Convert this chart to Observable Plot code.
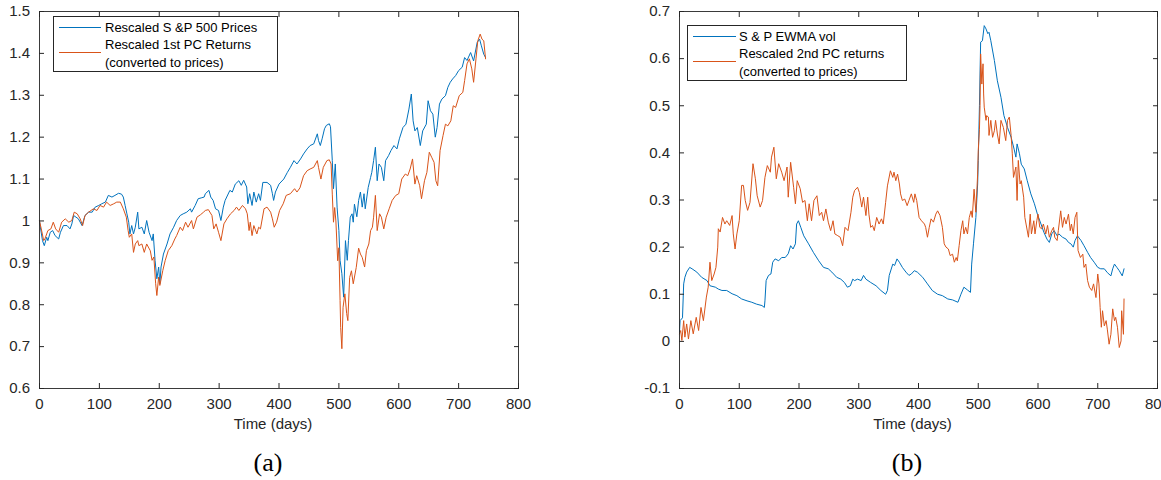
<!DOCTYPE html>
<html><head><meta charset="utf-8">
<script src="https://cdn.jsdelivr.net/npm/d3@7"></script>
<script src="https://cdn.jsdelivr.net/npm/@observablehq/plot@0.6"></script>
<style>
body{margin:0;background:#fff;width:1161px;height:480px;position:relative;overflow:hidden;font-family:"Liberation Sans",Arial,sans-serif;}
.panel{position:absolute;top:0;}
.legend{position:absolute;border:1px solid #262626;background:#fff;font-size:13px;color:#000;box-sizing:border-box;}
.legend .ln{position:absolute;height:0;border-top:1.2px solid;}
.legend .tx{position:absolute;line-height:17px;white-space:nowrap;}
.cap{position:absolute;font-family:"Liberation Serif","DejaVu Serif",serif;font-size:26px;color:#000;transform:translate(-50%,-50%);}
</style></head>
<body>
<div id="a" class="panel" style="left:0;width:580px"></div>
<div id="b" class="panel" style="left:580px;width:581px"></div>
<div class="legend" style="left:53px;top:16px;width:225px;height:56px">
  <div class="ln" style="left:5px;width:42px;top:10px;color:#0072BD"></div>
  <div class="tx" style="left:51px;top:2px">Rescaled S &amp;P 500 Prices</div>
  <div class="ln" style="left:5px;width:42px;top:35px;color:#D95319"></div>
  <div class="tx" style="left:51px;top:19px">Rescaled 1st PC Returns</div>
  <div class="tx" style="left:51px;top:37px">(converted to prices)</div>
</div>
<div class="legend" style="left:687px;top:25px;width:220px;height:56px">
  <div class="ln" style="left:5px;width:43px;top:10px;color:#0072BD"></div>
  <div class="tx" style="left:51px;top:2px">S &amp; P EWMA vol</div>
  <div class="ln" style="left:5px;width:43px;top:35px;color:#D95319"></div>
  <div class="tx" style="left:51px;top:19px">Rescaled 2nd PC returns</div>
  <div class="tx" style="left:51px;top:37px">(converted to prices)</div>
</div>
<div class="cap" style="left:268px;top:463px">(a)</div>
<div class="cap" style="left:907px;top:463px">(b)</div>
<script>
// ---------- Panel (a) ----------
const spDays = [0,1,5,8,12,14,18,22,26,32,35,40,46,51,54,57,61,65,71,76,82,88,93,99,104,110,115,121,126,132,137,140,143,146,149,151,154,157,160,164,166,171,175,179,183,188,190,193,196,199,201,203,207,213,218,224,229,235,240,246,252,254,260,265,270,275,277,283,286,290,294,299,303,307,310,318,322,327,333,337,341,346,348,351,355,358,362,366,369,373,380,386,389,391,394,400,408,414,419,425,430,436,441,447,452,458,464,466,469,472,476,479,484,486,489,491,494,497,500,502,505,508,511,514,516,519,522,524,526,530,533,536,539,542,544,549,553,555,558,561,564,567,571,575,578,583,587,592,597,601,607,612,617,621,624,627,631,636,640,646,649,653,657,661,664,668,672,678,682,686,690,695,700,706,710,714,720,725,731,735,738,742,745];
const spVals = [1.0,0.989,0.953,0.941,0.961,0.953,0.973,0.977,0.965,0.957,0.973,0.989,0.989,0.981,0.993,1.013,1.009,1.005,0.989,1.013,1.021,1.021,1.033,1.037,1.041,1.045,1.061,1.057,1.061,1.066,1.064,1.057,1.037,1.017,0.997,0.969,0.989,0.969,0.985,1.021,0.981,0.985,0.969,1.001,0.973,0.953,0.969,0.906,0.862,0.89,0.85,0.89,0.921,0.945,0.969,0.985,1.001,1.013,1.017,1.021,1.029,1.021,1.037,1.053,1.055,1.057,1.065,1.073,1.057,1.049,1.029,1.025,1.001,1.033,1.049,1.073,1.069,1.088,1.096,1.085,1.097,1.081,1.041,1.065,1.037,1.069,1.045,1.065,1.049,1.092,1.092,1.085,1.065,1.049,1.069,1.088,1.1,1.116,1.128,1.144,1.136,1.148,1.16,1.172,1.18,1.184,1.208,1.192,1.18,1.196,1.22,1.228,1.232,1.225,1.144,1.077,1.136,1.033,0.977,0.906,0.874,0.818,0.953,0.906,0.953,1.009,1.017,0.997,1.04,1.01,1.049,1.069,1.033,1.065,1.029,1.08,1.104,1.116,1.144,1.176,1.096,1.136,1.128,1.096,1.144,1.156,1.168,1.18,1.172,1.196,1.223,1.231,1.267,1.303,1.239,1.215,1.223,1.18,1.215,1.231,1.287,1.263,1.255,1.2,1.223,1.279,1.291,1.299,1.319,1.331,1.339,1.347,1.359,1.367,1.39,1.383,1.402,1.382,1.426,1.434,1.418,1.398,1.39];
const pc1Days = [0,3,7,9,12,14,19,23,27,32,37,43,49,54,58,63,68,72,76,82,90,96,101,107,112,118,124,129,135,140,145,148,150,154,157,160,164,166,171,175,179,185,188,191,194,196,199,201,206,210,215,221,226,229,235,239,244,248,254,257,263,269,274,277,282,288,291,295,299,303,308,313,319,325,329,333,339,344,347,350,352,355,358,363,366,369,375,380,386,389,392,396,401,407,412,419,426,430,435,441,447,452,458,464,466,470,474,477,480,484,487,489,491,493,495,498,500,502,503,505,507,510,513,515,518,521,524,529,533,536,539,543,546,550,553,556,558,561,564,568,571,575,579,584,589,595,600,605,611,615,619,623,627,630,635,638,643,647,651,655,659,662,665,669,674,678,682,687,691,695,701,707,710,714,718,722,725,729,732,736,739,742,745];
const pc1Vals = [1.0,0.981,0.953,0.957,0.969,0.977,0.981,0.997,0.981,0.973,0.997,1.005,0.997,1.001,1.021,1.017,1.005,0.989,1.013,1.021,1.029,1.025,1.037,1.033,1.045,1.037,1.041,1.045,1.045,1.029,1.009,0.977,0.961,0.969,0.925,0.945,0.953,0.941,0.945,0.925,0.945,0.929,0.906,0.914,0.85,0.822,0.866,0.846,0.882,0.906,0.929,0.941,0.957,0.965,0.985,0.977,0.997,0.985,1.001,0.981,1.009,1.015,1.021,1.025,1.027,1.013,0.981,0.993,0.973,0.953,0.993,1.005,1.017,1.025,1.033,1.025,1.037,1.029,1.017,0.977,0.997,0.965,0.989,0.969,0.985,0.981,1.029,1.033,1.021,1.005,0.985,0.997,1.025,1.041,1.061,1.065,1.077,1.069,1.079,1.108,1.12,1.124,1.128,1.144,1.128,1.1,1.128,1.136,1.144,1.146,1.136,1.064,0.997,1.032,1.0,0.905,0.936,0.81,0.746,0.695,0.794,0.826,0.779,0.762,0.865,0.881,0.85,0.889,0.935,0.921,0.913,0.89,0.929,0.945,0.977,0.985,1.009,1.061,0.977,1.017,1.009,0.981,1.009,1.029,1.049,1.061,1.065,1.1,1.112,1.108,1.124,1.148,1.088,1.108,1.084,1.053,1.096,1.116,1.164,1.152,1.14,1.096,1.084,1.168,1.204,1.231,1.227,1.239,1.275,1.271,1.299,1.307,1.335,1.375,1.387,1.363,1.331,1.387,1.43,1.446,1.434,1.43,1.387];
const xTicks = [0,100,200,300,400,500,600,700,800];
const yTicksA = [0.6,0.7,0.8,0.9,1.0,1.1,1.2,1.3,1.4,1.5];

// ---------- Panel (b) ----------
const volDays = [0,1,5,7,9,12,17,21,29,37,46,51,60,65,71,79,88,96,104,113,121,129,138,142,143,145,149,153,156,160,166,171,177,182,186,190,194,196,199,203,208,216,224,233,241,249,255,263,270,276,281,286,290,293,298,304,308,312,320,329,337,345,348,351,357,360,364,368,373,379,384,388,393,398,407,415,423,432,440,449,457,466,471,476,482,487,489,492,496,499,500,502,504,507,510,513,516,518,521,527,532,538,543,549,555,560,563,565,569,572,577,582,588,594,599,605,610,615,619,623,627,632,635,641,647,651,655,659,662,666,672,677,683,688,694,700,705,711,716,722,725,728,732,736,741,744];
const volVals = [0.02,0.044,0.05,0.122,0.136,0.147,0.157,0.154,0.147,0.136,0.129,0.118,0.115,0.111,0.108,0.108,0.101,0.097,0.09,0.086,0.083,0.079,0.076,0.072,0.086,0.129,0.14,0.143,0.168,0.175,0.171,0.178,0.178,0.186,0.203,0.196,0.207,0.249,0.256,0.242,0.224,0.207,0.189,0.171,0.157,0.154,0.147,0.136,0.132,0.125,0.115,0.118,0.132,0.129,0.132,0.129,0.14,0.132,0.125,0.118,0.108,0.1,0.108,0.14,0.164,0.161,0.175,0.168,0.157,0.147,0.14,0.143,0.15,0.147,0.136,0.122,0.108,0.1,0.097,0.09,0.088,0.083,0.1,0.115,0.109,0.104,0.164,0.207,0.263,0.334,0.384,0.5,0.635,0.638,0.67,0.663,0.653,0.656,0.638,0.596,0.553,0.518,0.479,0.454,0.433,0.408,0.391,0.419,0.398,0.376,0.366,0.341,0.313,0.292,0.27,0.249,0.231,0.217,0.21,0.228,0.235,0.224,0.228,0.221,0.217,0.21,0.207,0.2,0.214,0.224,0.214,0.203,0.189,0.178,0.168,0.157,0.154,0.154,0.146,0.139,0.154,0.164,0.157,0.15,0.139,0.154];
const pc2Days = [0,2,4,7,9,12,15,19,23,28,32,36,40,45,48,51,54,58,61,64,65,68,72,76,79,84,88,90,93,96,100,104,107,110,114,118,123,127,130,135,139,143,147,152,154,158,162,166,171,175,180,182,186,191,194,197,202,206,210,214,217,221,225,230,234,238,241,245,249,253,257,260,264,269,273,277,282,287,290,293,298,301,305,308,312,315,317,320,323,326,330,334,338,341,345,348,353,357,359,362,365,368,370,373,377,381,384,388,392,394,397,401,405,410,412,415,418,421,425,429,432,436,440,443,446,450,453,457,460,463,465,468,471,474,476,479,482,485,488,490,493,496,499,500,502,503,504,506,508,509,510,513,514,517,518,521,524,527,529,532,535,538,542,546,549,552,555,557,559,563,565,567,570,572,576,578,580,584,587,589,593,595,598,600,603,606,609,613,616,619,623,626,628,632,634,638,641,644,647,651,654,656,659,662,665,667,671,675,677,680,683,686,690,693,697,700,702,704,706,708,711,714,716,719,722,725,728,730,733,736,739,740,743,744];
const pc2Vals = [0.016,0.023,0.002,0.044,0.009,0.037,0.005,0.044,0.016,0.051,0.023,0.072,0.044,0.094,0.115,0.168,0.129,0.143,0.157,0.2,0.239,0.232,0.263,0.249,0.256,0.246,0.267,0.228,0.196,0.228,0.256,0.331,0.331,0.299,0.278,0.295,0.377,0.345,0.309,0.285,0.299,0.348,0.373,0.359,0.391,0.412,0.345,0.377,0.359,0.341,0.37,0.306,0.38,0.327,0.292,0.341,0.324,0.295,0.299,0.256,0.292,0.256,0.299,0.309,0.267,0.274,0.256,0.281,0.253,0.235,0.256,0.228,0.225,0.221,0.203,0.242,0.235,0.274,0.306,0.32,0.327,0.316,0.285,0.306,0.267,0.306,0.27,0.242,0.246,0.235,0.263,0.249,0.26,0.249,0.295,0.33,0.362,0.348,0.359,0.341,0.355,0.334,0.313,0.299,0.302,0.288,0.299,0.313,0.295,0.313,0.299,0.263,0.256,0.249,0.242,0.221,0.242,0.26,0.253,0.27,0.277,0.267,0.242,0.207,0.2,0.196,0.182,0.185,0.168,0.178,0.171,0.203,0.235,0.256,0.228,0.242,0.228,0.263,0.277,0.263,0.323,0.274,0.355,0.405,0.45,0.5,0.61,0.546,0.589,0.525,0.497,0.469,0.479,0.476,0.437,0.469,0.433,0.447,0.469,0.44,0.419,0.469,0.454,0.426,0.469,0.476,0.437,0.398,0.348,0.37,0.299,0.384,0.334,0.341,0.306,0.263,0.249,0.221,0.27,0.228,0.256,0.228,0.256,0.27,0.242,0.239,0.249,0.228,0.246,0.221,0.235,0.242,0.221,0.214,0.235,0.277,0.242,0.263,0.249,0.27,0.235,0.249,0.228,0.263,0.274,0.193,0.178,0.185,0.157,0.164,0.129,0.115,0.108,0.122,0.093,0.143,0.122,0.072,0.03,0.065,0.033,0.044,0.026,-0.006,0.015,0.069,0.044,0.051,0.03,-0.013,0.001,0.065,0.015,0.09];
const yTicksB = [-0.1,0,0.1,0.2,0.3,0.4,0.5,0.6,0.7];

const BLUE = "#0072BD", ORANGE = "#D95319", INK = "#262626";
const fmt = d => String(+d.toFixed(1));
const pts = (days, vals) => days.map((d, i) => ({day: d, v: vals[i]}));

function panel({width, marginLeft, marginRight, yDomain, yTicks, s1, s2}) {
  return Plot.plot({
    width, height: 440,
    marginLeft, marginRight, marginTop: 11, marginBottom: 52,
    style: {fontFamily: "'Liberation Sans', Arial, sans-serif", fontSize: "15px", color: INK, background: "transparent", overflow: "visible"},
    x: {domain: [0, 800]},
    y: {domain: yDomain},
    marks: [
      Plot.lineY(s1, {x: "day", y: "v", stroke: BLUE, strokeWidth: 1}),
      Plot.lineY(s2, {x: "day", y: "v", stroke: ORANGE, strokeWidth: 1}),
      Plot.frame({stroke: INK, strokeWidth: 0.9}),
      Plot.axisX({anchor: "bottom", ticks: xTicks, tickSize: -5, tickPadding: 15, tickFormat: d => String(d), label: null, stroke: INK}),
      Plot.axisX({anchor: "top", ticks: xTicks, tickSize: -5, tickFormat: () => "", label: null, stroke: INK}),
      Plot.axisY({anchor: "left", ticks: yTicks, tickSize: -5, tickPadding: 14.5, tickFormat: fmt, label: null, stroke: INK}),
      Plot.axisY({anchor: "right", ticks: yTicks, tickSize: -5, tickFormat: () => "", label: null, stroke: INK}),
      Plot.text(["Time (days)"], {frameAnchor: "bottom", dy: 40, dx: -6, text: d => d, fontSize: 15, fill: INK})
    ]
  });
}

document.getElementById("a").append(panel({
  width: 580, marginLeft: 39, marginRight: 62, yDomain: [0.6, 1.5], yTicks: yTicksA,
  s1: pts(spDays, spVals), s2: pts(pc1Days, pc1Vals)
}));
document.getElementById("b").append(panel({
  width: 581, marginLeft: 99, marginRight: 4, yDomain: [-0.1, 0.7], yTicks: yTicksB,
  s1: pts(volDays, volVals), s2: pts(pc2Days, pc2Vals)
}));
</script>
</body></html>
